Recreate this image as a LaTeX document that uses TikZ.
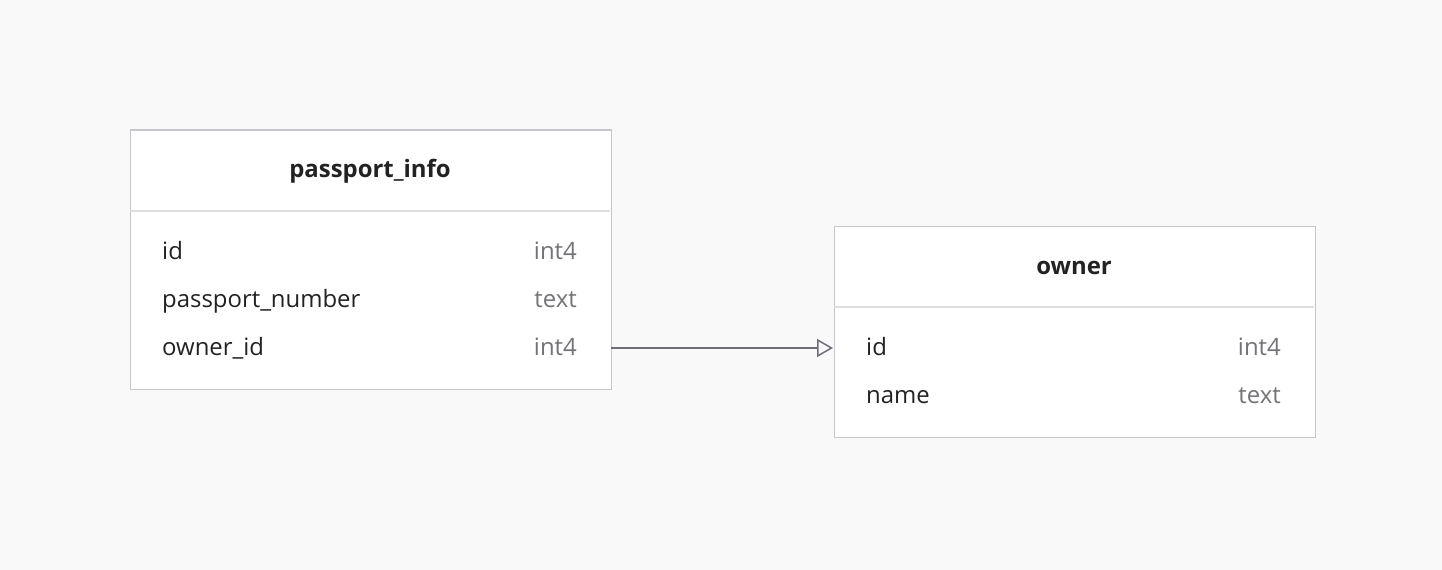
\documentclass[tikz,border=0pt]{standalone}
\usepackage{fontspec}
\setmainfont{Open Sans}
\usetikzlibrary{arrows.meta}
\definecolor{bg}{HTML}{F9F9F9}
\definecolor{boxline}{HTML}{C6C6CC}
\definecolor{sepline}{HTML}{DEDEE2}
\definecolor{nametext}{HTML}{222222}
\definecolor{typetext}{HTML}{737378}
\definecolor{arrowcol}{HTML}{6E6E78}
\tikzset{
  tbl/.style={draw=boxline, fill=white, line width=1.5bp},
  sep/.style={draw=sepline, line width=1.5bp},
  title/.style={font=\fontsize{24}{28}\selectfont\bfseries, text=nametext, inner sep=0pt, anchor=base},
  colname/.style={font=\fontsize{24}{28}\selectfont, text=nametext, anchor=base west, inner sep=0pt},
  coltype/.style={font=\fontsize{24}{28}\selectfont, text=typetext, anchor=base east, inner sep=0pt},
  rel/.style={draw=arrowcol, line width=1.5bp, -{Triangle[open, length=16bp, width=18bp, line width=1.5bp]}}
}
\begin{document}
\begin{tikzpicture}[x=1bp,y=-1bp]
\fill[bg] (0,0) rectangle (1442,570);
\useasboundingbox (0,0) rectangle (1442,570);
% table passport_info
\node[tbl, minimum width=481bp, minimum height=259bp, anchor=north west, inner sep=0pt] (t1) at (129.5,129.5) {};
\draw[sep] (130.25,211) -- (609.75,211);
\node[title] (t1title) at (370,178) {passport\_info};
\node[colname] (t1n1) at (162,259) {id};
\node[coltype] (t1t1) at (577,259) {int4};
\node[colname] (t1n2) at (162,307) {passport\_number};
\node[coltype] (t1t2) at (577,307) {text};
\node[colname] (t1n3) at (162,355) {owner\_id};
\node[coltype] (t1t3) at (577,355) {int4};
\coordinate (t1r3) at (611,348);
% table owner
\node[tbl, minimum width=481bp, minimum height=211bp, anchor=north west, inner sep=0pt] (t2) at (833.5,225.5) {};
\draw[sep] (834.25,307) -- (1313.75,307);
\node[title] (t2title) at (1074,274) {owner};
\node[colname] (t2n1) at (866,355) {id};
\node[coltype] (t2t1) at (1281,355) {int4};
\node[colname] (t2n2) at (866,403) {name};
\node[coltype] (t2t2) at (1281,403) {text};
\coordinate (t2r1) at (833,348);
\draw[rel] (t1r3) -- (t2r1);
\end{tikzpicture}
\end{document}
